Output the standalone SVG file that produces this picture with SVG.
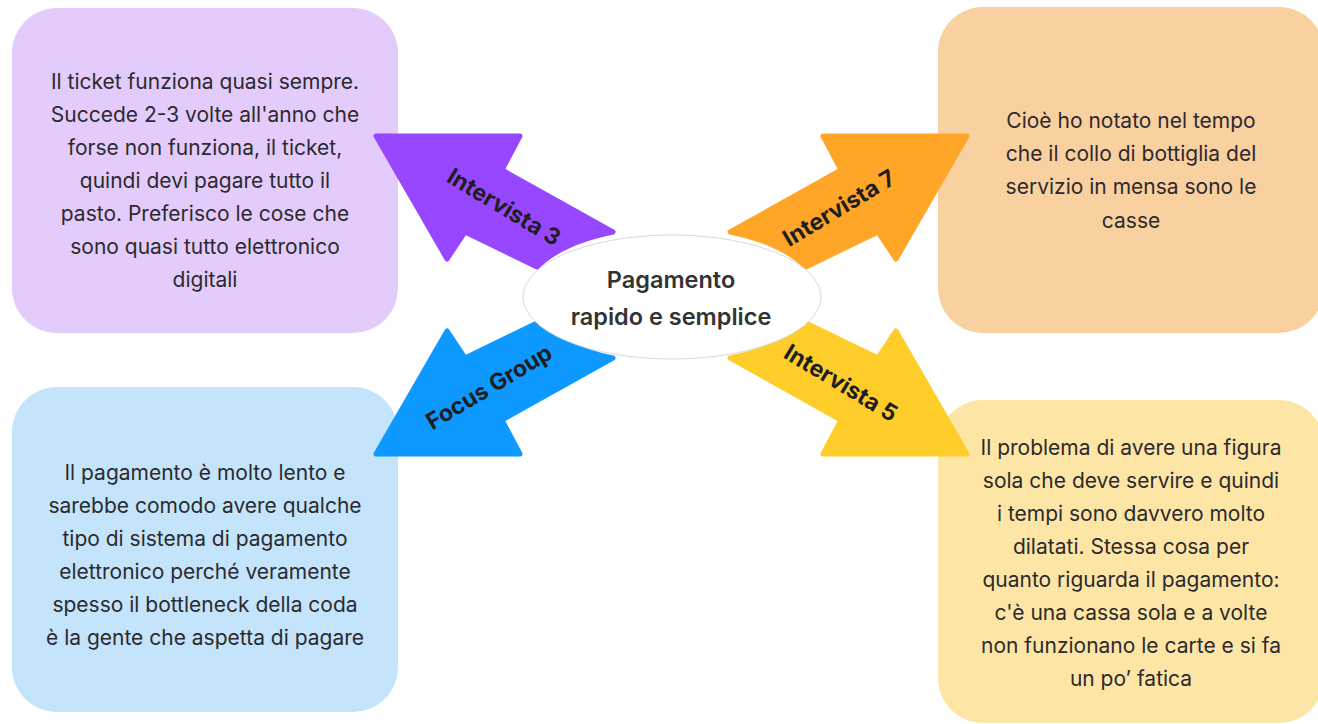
<svg xmlns="http://www.w3.org/2000/svg" width="1318" height="724" viewBox="0 0 1318 724">
<style>
.box{stroke:none}
.txt{font-family:Inter,"Noto Sans","Liberation Sans",sans-serif;font-size:21px;fill:#2c2a2e;text-anchor:middle}
.lbl{font-family:Inter,"Noto Sans","Liberation Sans",sans-serif;font-size:23px;font-weight:700;fill:#1e1e1e;text-anchor:middle}
.ctr{font-family:Inter,"Noto Sans","Liberation Sans",sans-serif;font-size:23.5px;font-weight:600;fill:#333333;text-anchor:middle}
.arr{stroke-width:5;stroke-linejoin:round}
</style>
<rect width="1318" height="724" fill="#ffffff"/>
<g id="node-intervista3">
<rect class="box" x="12" y="8" width="386" height="325" rx="45" fill="#E3CCFB"/>
<text class="txt"><tspan x="205" y="89">Il ticket funziona quasi sempre.</tspan><tspan x="205" y="122">Succede 2-3 volte all'anno che</tspan><tspan x="205" y="155">forse non funziona, il ticket,</tspan><tspan x="205" y="188">quindi devi pagare tutto il</tspan><tspan x="205" y="221">pasto. Preferisco le cose che</tspan><tspan x="205" y="254">sono quasi tutto elettronico</tspan><tspan x="205" y="287">digitali</tspan></text>
</g>
<g id="node-intervista7">
<rect class="box" x="938" y="7" width="386" height="326" rx="45" fill="#F9D09F"/>
<text class="txt"><tspan x="1131" y="128">Cioè ho notato nel tempo</tspan><tspan x="1131" y="161">che il collo di bottiglia del</tspan><tspan x="1131" y="194">servizio in mensa sono le</tspan><tspan x="1131" y="228">casse</tspan></text>
</g>
<g id="node-focusgroup">
<rect class="box" x="12" y="387" width="386" height="325" rx="45" fill="#C3E4FB"/>
<text class="txt"><tspan x="205" y="480">Il pagamento è molto lento e</tspan><tspan x="205" y="513">sarebbe comodo avere qualche</tspan><tspan x="205" y="546">tipo di sistema di pagamento</tspan><tspan x="205" y="579">elettronico perché veramente</tspan><tspan x="205" y="612">spesso il bottleneck della coda</tspan><tspan x="205" y="645">è la gente che aspetta di pagare</tspan></text>
</g>
<g id="node-intervista5">
<rect class="box" x="938" y="400" width="386" height="323" rx="45" fill="#FDE5A6"/>
<text class="txt"><tspan x="1131" y="455">Il problema di avere una figura</tspan><tspan x="1131" y="488">sola che deve servire e quindi</tspan><tspan x="1131" y="521">i tempi sono davvero molto</tspan><tspan x="1131" y="554">dilatati. Stessa cosa per</tspan><tspan x="1131" y="587">quanto riguarda il pagamento:</tspan><tspan x="1131" y="620">c'è una cassa sola e a volte</tspan><tspan x="1131" y="653">non funzionano le carte e si fa</tspan><tspan x="1131" y="686">un po’ fatica</tspan></text>
</g>
<g id="connectors">
<path class="arr" fill="#9747FF" stroke="#9747FF" d="M376,136 L520,136 L502,170 L613,232 A150,71 0 0 0 537,267 L465,232 L447,259 Z"/>
<path class="arr" fill="#FFA629" stroke="#FFA629" d="M967,136 L823,136 L841,170 L730,232 A150,71 0 0 1 806,267 L878,232 L896,259 Z"/>
<path class="arr" fill="#0D99FF" stroke="#0D99FF" d="M376,454 L520,454 L502,420 L613,358 A150,71 0 0 1 537,323 L465,358 L447,331 Z"/>
<path class="arr" fill="#FFCD29" stroke="#FFCD29" d="M967,454 L823,454 L841,420 L730,358 A150,71 0 0 0 806,323 L878,358 L896,331 Z"/>
<text class="lbl" transform="translate(504,207) rotate(31)" y="8">Intervista 3</text>
<text class="lbl" transform="translate(839,208) rotate(-31)" y="8">Intervista 7</text>
<text class="lbl" transform="translate(489,387) rotate(-31)" y="8">Focus Group</text>
<text class="lbl" transform="translate(841,383) rotate(31)" y="8">Intervista 5</text>
</g>
<g id="node-center">
<ellipse cx="672" cy="297" rx="149" ry="62" fill="#ffffff" stroke="#d9d9d9" stroke-width="1"/>
<text class="ctr"><tspan x="671" y="288">Pagamento</tspan><tspan x="671" y="325">rapido e semplice</tspan></text>
</g>
</svg>
